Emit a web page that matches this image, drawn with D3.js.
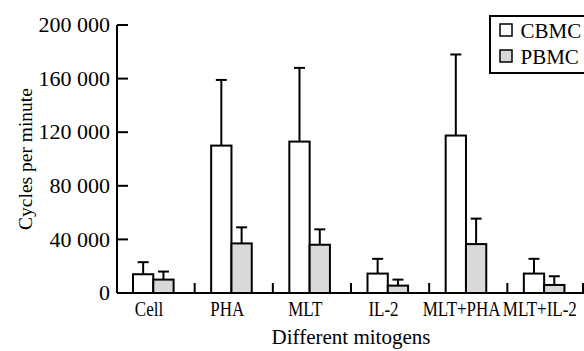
<!DOCTYPE html>
<html>
<head>
<meta charset="utf-8">
<script src="https://cdn.jsdelivr.net/npm/d3@7"></script>
<style>
  body { margin: 0; background: #fff; }
  svg text { font-family: "Liberation Serif", "Times New Roman", serif; fill: #000; }
</style>
</head>
<body>
<div id="chart"></div>
<script>
// data
const categories = ["Cell", "PHA", "MLT", "IL-2", "MLT+PHA", "MLT+IL-2"];
const series = ["CBMC", "PBMC"];
const cbmc = [14000, 110000, 113000, 14500, 117500, 14500];
const cbmcSd = [9000, 49000, 55000, 11000, 60500, 11000];
const pbmc = [10000, 37000, 36000, 5500, 36500, 6000];
const pbmcSd = [6000, 12000, 11500, 4500, 19000, 6500];
const yTicks = [0, 40000, 80000, 120000, 160000, 200000];

const width = 584;
const height = 351;
const fills = { CBMC: "#ffffff", PBMC: "#d9d9d9" };

const rows = [];
categories.forEach((c, i) => {
    rows.push({ cat: c, s: "CBMC", v: cbmc[i], sd: cbmcSd[i] });
    rows.push({ cat: c, s: "PBMC", v: pbmc[i], sd: pbmcSd[i] });
});

const svg = d3.select("#chart")
    .append("svg")
    .attr("width", width)
    .attr("height", height);

const x0 = d3.scaleBand()
    .domain(categories)
    .range([117, 586]);

const x1 = d3.scaleBand()
    .domain(series)
    .range([16, 56.6]);

const y = d3.scaleLinear()
    .domain([0, 200000])
    .range([293, 25]);

const fmt = d3.formatLocale({ decimal: ".", thousands: " ", grouping: [3], currency: ["", ""] }).format(",d");

// y axis
const yAxis = svg.append("g");
yAxis.append("line")
    .attr("x1", 117).attr("x2", 117)
    .attr("y1", y(200000)).attr("y2", y(0))
    .attr("stroke", "#000").attr("stroke-width", 2);
yAxis.selectAll(".tick")
    .data(yTicks)
    .join("line")
    .attr("x1", 117).attr("x2", 128)
    .attr("y1", d => y(d)).attr("y2", d => y(d))
    .attr("stroke", "#000").attr("stroke-width", 2);
yAxis.selectAll("text")
    .data(yTicks)
    .join("text")
    .attr("x", 110)
    .attr("y", d => y(d))
    .attr("dy", "0.33em")
    .attr("text-anchor", "end")
    .style("font-size", "22px")
    .text(d => fmt(d));

svg.append("text")
    .attr("transform", `translate(32,159) rotate(-90)`)
    .attr("text-anchor", "middle")
    .style("font-size", "19.5px")
    .text("Cycles per minute");

// x axis
svg.append("line")
    .attr("x1", 117).attr("x2", width)
    .attr("y1", y(0)).attr("y2", y(0))
    .attr("stroke", "#000").attr("stroke-width", 2);
svg.selectAll(".xtick")
    .data(categories.slice(1))
    .join("line")
    .attr("x1", d => x0(d) - 0.5).attr("x2", d => x0(d) - 0.5)
    .attr("y1", y(0)).attr("y2", y(0) - 10)
    .attr("stroke", "#000").attr("stroke-width", 2);
svg.append("line")
    .attr("x1", 583).attr("x2", 583)
    .attr("y1", y(0)).attr("y2", y(0) - 10)
    .attr("stroke", "#000").attr("stroke-width", 2);

// labels are a little condensed in the original
svg.selectAll(".xlab")
    .data(categories)
    .join("text")
    .attr("transform", d => `translate(${x0(d) + 32},316) scale(0.85,1)`)
    .attr("text-anchor", "middle")
    .style("font-size", "20px")
    .text(d => d);

svg.append("text")
    .attr("x", 351)
    .attr("y", 344)
    .attr("text-anchor", "middle")
    .style("font-size", "21px")
    .text("Different mitogens");

// error bars
const err = svg.append("g");
err.selectAll(".ev")
    .data(rows)
    .join("line")
    .attr("x1", d => x0(d.cat) + x1(d.s) + x1.bandwidth() / 2)
    .attr("x2", d => x0(d.cat) + x1(d.s) + x1.bandwidth() / 2)
    .attr("y1", d => y(d.v))
    .attr("y2", d => y(d.v + d.sd))
    .attr("stroke", "#000").attr("stroke-width", 2);
err.selectAll(".ec")
    .data(rows)
    .join("line")
    .attr("x1", d => x0(d.cat) + x1(d.s) + x1.bandwidth() / 2 - 5.5)
    .attr("x2", d => x0(d.cat) + x1(d.s) + x1.bandwidth() / 2 + 5.5)
    .attr("y1", d => y(d.v + d.sd))
    .attr("y2", d => y(d.v + d.sd))
    .attr("stroke", "#000").attr("stroke-width", 2);

// bars
svg.append("g")
    .selectAll("rect")
    .data(rows)
    .join("rect")
    .attr("x", d => x0(d.cat) + x1(d.s))
    .attr("y", d => y(d.v))
    .attr("width", x1.bandwidth())
    .attr("height", d => y(0) - y(d.v))
    .attr("fill", d => fills[d.s])
    .attr("stroke", "#000")
    .attr("stroke-width", 2);

// legend
const legend = svg.append("g");
legend.append("rect")
    .attr("x", 490).attr("y", 16)
    .attr("width", 110).attr("height", 57)
    .attr("fill", "#fff")
    .attr("stroke", "#000").attr("stroke-width", 2);
const li = legend.selectAll(".li")
    .data(series)
    .join("g")
    .attr("transform", (d, i) => `translate(500,${24 + i * 26})`);
li.append("rect")
    .attr("width", 12).attr("height", 12)
    .attr("fill", d => fills[d])
    .attr("stroke", "#000").attr("stroke-width", 1.5);
li.append("text")
    .attr("x", 20.5)
    .attr("y", 13.5)
    .style("font-size", "21px")
    .text(d => d);
</script>
</body>
</html>
